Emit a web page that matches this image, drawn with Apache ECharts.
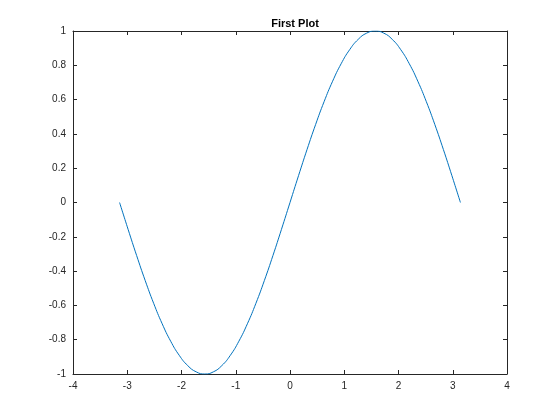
<!DOCTYPE html>
<html><head><meta charset="utf-8">
<script src="https://cdn.jsdelivr.net/npm/echarts@6/dist/echarts.min.js"></script>
<style>html,body{margin:0;padding:0;background:#fff}#c{width:560px;height:420px}</style>
</head><body><div id="c"></div>
<script>
var xValues = [-3.1416,-2.9845,-2.8274,-2.6704,-2.5133,-2.3562,-2.1991,-2.0420,-1.8850,-1.7279,-1.5708,-1.4137,-1.2566,-1.0996,-0.9425,-0.7854,-0.6283,-0.4712,-0.3142,-0.1571,0,0.1571,0.3142,0.4712,0.6283,0.7854,0.9425,1.0996,1.2566,1.4137,1.5708,1.7279,1.8850,2.0420,2.1991,2.3562,2.5133,2.6704,2.8274,2.9845,3.1416];
var yValues = [0,-0.1564,-0.3090,-0.4540,-0.5878,-0.7071,-0.8090,-0.8910,-0.9511,-0.9877,-1,-0.9877,-0.9511,-0.8910,-0.8090,-0.7071,-0.5878,-0.4540,-0.3090,-0.1564,0,0.1564,0.3090,0.4540,0.5878,0.7071,0.8090,0.8910,0.9511,0.9877,1,0.9877,0.9511,0.8910,0.8090,0.7071,0.5878,0.4540,0.3090,0.1564,0];
var titleText = 'First Plot';

var pts = xValues.map(function(x,i){return [x, yValues[i]];});
var axColor = '#262626';
var font = 'Liberation Sans, Helvetica, Arial, sans-serif';
function xa(pos, show){
  return {type:'value', position:pos, min:-4, max:4, interval:1,
    axisLine:{show:true, onZero:false, lineStyle:{color:axColor, width:1}},
    axisTick:{show:true, inside:true, length:4, lineStyle:{color:axColor}},
    axisLabel:{show:show, color:axColor, fontSize:10, fontFamily:font, margin:7},
    splitLine:{show:false}};
}
function ya(pos, show){
  return {type:'value', position:pos, min:-1, max:1, interval:0.2,
    axisLine:{show:true, onZero:false, lineStyle:{color:axColor, width:1}},
    axisTick:{show:true, inside:true, length:4, lineStyle:{color:axColor}},
    axisLabel:{show:show, color:axColor, fontSize:10, fontFamily:font, margin:7,
      formatter:function(v){ return String(Math.round(v*10)/10); }},
    splitLine:{show:false}};
}
var chart = echarts.init(document.getElementById('c'), null, {renderer:'canvas'});
chart.setOption({
  animation:false,
  backgroundColor:'#fff',
  title:{text:titleText, left:290, top:13, textAlign:'center',
    textStyle:{fontSize:11, fontWeight:'bold', color:'#000', fontFamily:font}},
  grid:{left:73, top:31, right:53, bottom:46, containLabel:false},
  xAxis:[xa('bottom', true), xa('top', false)],
  yAxis:[ya('left', true), ya('right', false)],
  series:[{type:'line', data:pts, xAxisIndex:0, yAxisIndex:0, showSymbol:false, smooth:true,
    lineStyle:{color:'#0072BD', width:1}}]
});
</script></body></html>
